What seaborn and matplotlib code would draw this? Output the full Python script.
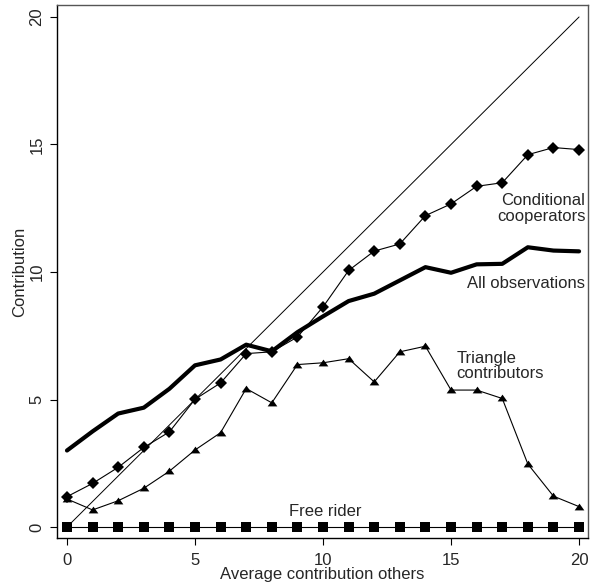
import numpy as np
import pandas as pd
import matplotlib
matplotlib.use("Agg")
import matplotlib.pyplot as plt
import seaborn as sns

# =========================
# Data
# =========================
others = list(range(21))

all_obs = [3.0, 3.75, 4.45, 4.68, 5.42, 6.34, 6.57, 7.15, 6.89, 7.64, 8.26,
           8.86, 9.15, 9.67, 10.19, 9.97, 10.3, 10.32, 10.97, 10.84, 10.81]

cond_coop = [1.19, 1.71, 2.34, 3.12, 3.73, 5.01, 5.65, 6.8, 6.87, 7.45, 8.63,
             10.06, 10.82, 11.1, 12.21, 12.67, 13.36, 13.5, 14.6, 14.88, 14.8]

triangle = [1.1, 0.67, 1.03, 1.52, 2.19, 3.02, 3.7, 5.43, 4.87, 6.37, 6.44,
            6.6, 5.69, 6.87, 7.09, 5.37, 5.37, 5.04, 2.47, 1.21, 0.8]

free_rider = [0.0] * 21

# =========================
# Style
# =========================
sns.set_style("ticks")
plt.rcParams["font.family"] = ["Liberation Sans", "DejaVu Sans"]
plt.rcParams["font.size"] = 12

fig = plt.figure(figsize=(5.93, 5.87), dpi=100)
ax = fig.add_axes([0.0961, 0.0835, 0.8955, 0.908])

# 45 degree line
sns.lineplot(x=others, y=others, ax=ax, color="black", linewidth=0.7)

# free rider
sns.lineplot(x=others, y=free_rider, ax=ax, color="black", linewidth=0.8,
             marker="s", markersize=6.5, markeredgewidth=0)

# triangle contributors
tri_marker = [(-1, -0.6), (1, -0.6), (0, 0.8)]
sns.lineplot(x=others, y=triangle, ax=ax, color="black", linewidth=0.8,
             marker=tri_marker, markersize=7, markeredgewidth=0)

# conditional cooperators
sns.lineplot(x=others, y=cond_coop, ax=ax, color="black", linewidth=0.8,
             marker="D", markersize=6.2, markeredgewidth=0)

# all observations
sns.lineplot(x=others, y=all_obs, ax=ax, color="black", linewidth=3.0)

# labels on the chart
ax.text(20.25, 12.5, "Conditional\ncooperators", ha="right", va="center",
        multialignment="right", fontsize=12, linespacing=1.05)
ax.text(20.25, 9.53, "All observations", ha="right", va="center", fontsize=12)
ax.text(15.2, 6.31, "Triangle\ncontributors", ha="left", va="center",
        multialignment="left", fontsize=12, linespacing=1.05)
ax.text(10.1, 0.6, "Free rider", ha="center", va="center", fontsize=12)

# axes
ax.set_xlim(-0.39, 20.35)
ax.set_ylim(-0.43, 20.47)
ax.set_xticks([0, 5, 10, 15, 20])
ax.set_yticks([0, 5, 10, 15, 20])
ax.tick_params(axis="both", direction="out", length=5, width=0.8,
               color="black", labelsize=12)
ax.tick_params(axis="x", pad=6)
ax.tick_params(axis="y", pad=4)
for lab in ax.get_yticklabels():
    lab.set_rotation(90)
    lab.set_va("center")
ax.set_xlabel("Average contribution others", fontsize=12, labelpad=-1)
ax.set_ylabel("Contribution", fontsize=12, labelpad=2)

for side in ["left", "bottom"]:
    ax.spines[side].set_color("black")
    ax.spines[side].set_linewidth(1.0)
for side in ["top", "right"]:
    ax.spines[side].set_visible(True)
    ax.spines[side].set_color("#555555")
    ax.spines[side].set_linewidth(1.0)

fig.savefig("out.png", dpi=100)
